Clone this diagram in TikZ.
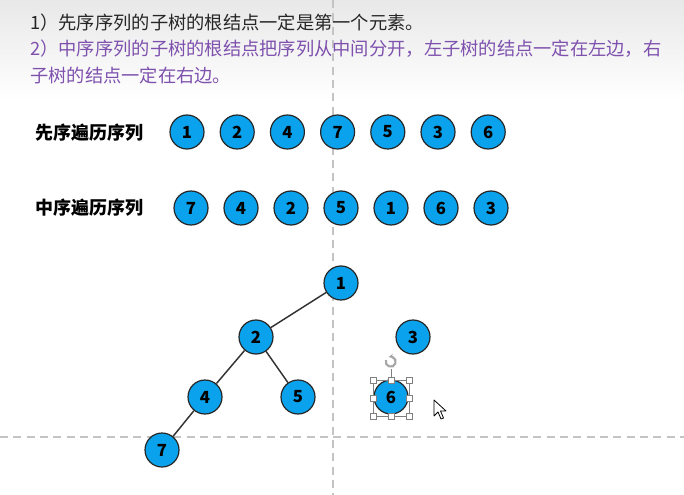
\documentclass[tikz,border=0pt]{standalone}
\usepackage{fontspec}
\setmainfont{Noto Sans CJK SC}
\usetikzlibrary{arrows.meta}
\definecolor{nodeblue}{HTML}{0AA2EC}
\definecolor{notepurple}{HTML}{7E51AE}
\definecolor{guidegray}{HTML}{C4C4C4}
\tikzstyle{num} = [circle, draw=black!85, line width=0.9pt, fill=nodeblue, minimum size=25.5pt, inner sep=0pt, font=\fontsize{12.5}{12.5}\selectfont\bfseries]
\tikzstyle{edge} = [draw=black!80, line width=1.1pt]
\tikzstyle{guide} = [guidegray, line width=0.9pt, dash pattern=on 6pt off 4pt]
\tikzstyle{handle} = [draw=gray, fill=white, line width=0.5pt]
\tikzstyle{note} = [anchor=base west, inner sep=0pt, font=\fontsize{13.7}{13.7}\selectfont]

\begin{document}
\begin{tikzpicture}[x=0.75pt, y=-0.75pt]
                \useasboundingbox (0,0) rectangle (684,495);
                % background, grey at the top
                \fill[white] (0,0) rectangle (684,495);
                \shade[top color=black!9, bottom color=white] (0,0) rectangle (684,100);

                % guide lines
                \draw[guide] (333,0) -- (333,495);
                \draw[guide] (0,437) -- (684,437);

                % notes
                \node[note, text=black!85] (note1) at (30,30) {1）先序序列的子树的根结点一定是第一个元素。};
                \node[note, text=notepurple] (note2) at (30,56) {2）中序序列的子树的根结点把序列从中间分开，左子树的结点一定在左边，右};
                \node[note, text=notepurple] (note3) at (30,83) {子树的结点一定在右边。};

                % the two sequences
                \node[font=\fontsize{13.5}{13.5}\selectfont\bfseries] (prelbl) at (89,133) {先序遍历序列};
                \node[font=\fontsize{13.5}{13.5}\selectfont\bfseries] (inlbl) at (89,208) {中序遍历序列};
                \foreach \v [count=\i] in {1,2,4,7,5,3,6}
                \node[num] (pre\i) at (136.8+50.2*\i,132) {\v};
                \foreach \v [count=\i] in {7,4,2,5,1,6,3}
                \node[num] (in\i) at (141+50*\i,208) {\v};

                % the tree
                \node[num] (T1) at (341,283) {1};
                \node[num] (T2) at (256,337) {2};
                \node[num] (T3) at (413,337) {3};
                \node[num] (T4) at (205,397) {4};
                \node[num] (T5) at (298,397) {5};
                \node[num] (T6) at (391,397) {6};
                \node[num] (T7) at (162,450) {7};
                \foreach \a/\b in {T1/T2, T2/T4, T2/T5, T4/T7}
                \draw[edge] (\a) -- (\b);

                % selection frame round 6
                \draw[gray, line width=0.5pt] (373,380) rectangle (409,416);
                \draw[gray, line width=0.6pt] (391,380) -- (391,369);
                \draw[gray!70, line width=1.6pt, -{Stealth[length=3.5pt]}] (386,360) arc[start angle=200, end angle=-110, radius=5];
                \foreach \p in {(373,380),(391,380),(409,380),(373,398),(409,398),(373,416),(391,416),(409,416)}
                \draw[handle] \p ++(-3,-3) rectangle ++(6,6);

                % mouse pointer
                \draw[black, fill=white, line width=0.6pt, line join=round] (434,400) -- (434,416) -- (438,412) -- (441,419) -- (443.5,418) -- (440.5,411) -- (446,411) -- cycle;
            \end{tikzpicture}
\end{document}
